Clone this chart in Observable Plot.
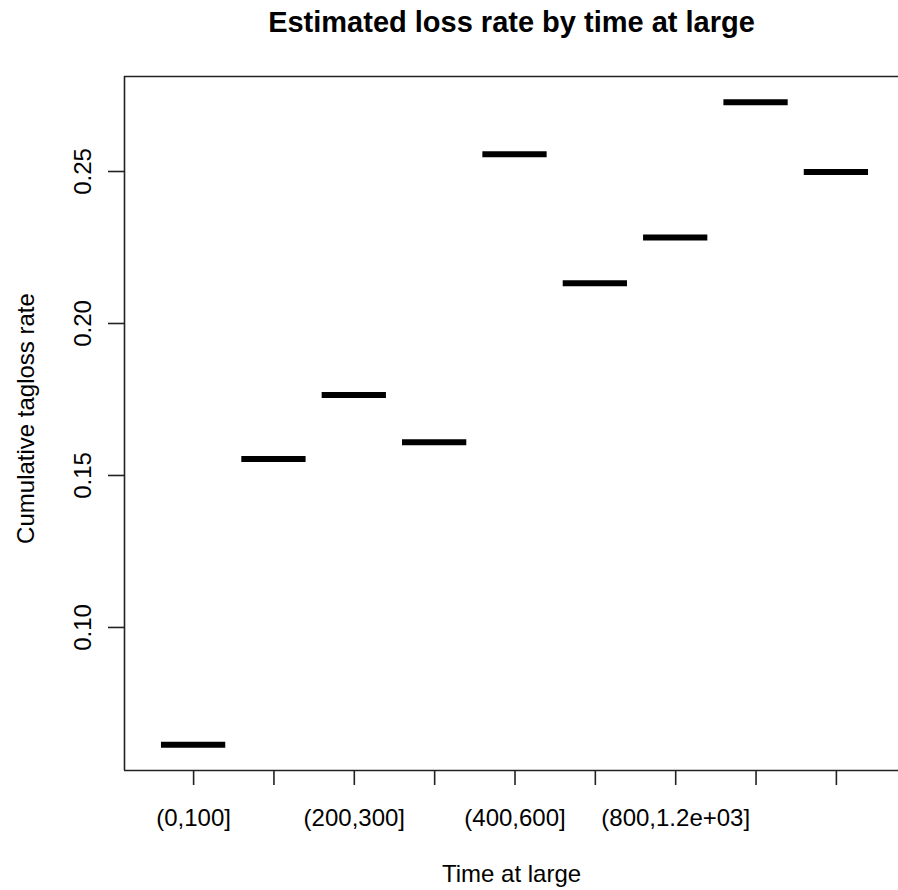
<!DOCTYPE html>
<html>
<head>
<meta charset="utf-8">
<script src="https://cdn.jsdelivr.net/npm/d3@7"></script>
<script src="https://cdn.jsdelivr.net/npm/@observablehq/plot@0.6"></script>
<style>
  html, body { margin: 0; padding: 0; background: #fff; overflow: hidden; }
  #chart svg { display: block; }
</style>
</head>
<body>
<div id="chart"></div>
<script>
// ---- data ----
const categories = ["(0,100]", "(100,200]", "(200,300]", "(300,400]", "(400,600]",
                    "(600,800]", "(800,1.2e+03]", "(1.2e+03,1.6e+03]", "(1.6e+03,3e+03]"];
const lossRate = [0.0614, 0.1554, 0.1765, 0.1609, 0.2557, 0.2132, 0.2283, 0.2728, 0.2498];
const labelShown = [true, false, true, false, true, false, true, false, false];
const yTicks = [0.10, 0.15, 0.20, 0.25];
const titleText = "Estimated loss rate by time at large";
const xTitle = "Time at large";
const yTitle = "Cumulative tagloss rate";

const data = categories.map((c, i) => ({pos: i + 1, cat: c, rate: lossRate[i]}));
const n = categories.length;

// R-style limits: 4% expansion
const xLo = 0.5, xHi = n + 0.5;
const xPad = (xHi - xLo) * 0.04;
const yMin = d3.min(lossRate), yMax = d3.max(lossRate);
const yPad = (yMax - yMin) * 0.04;
const xDomain = [xLo - xPad, xHi + xPad];
const yDomain = [yMin - yPad, yMax + yPad];

const font = "Liberation Sans, Arial, Helvetica, sans-serif";
const W = 898, H = 890, mL = 124, mT = 76, mB = 120;

const chart = Plot.plot({
  width: W,
  height: H,
  marginLeft: mL,
  marginTop: mT,
  marginBottom: mB,
  marginRight: 0,
  style: {fontFamily: font, fontSize: "24px", color: "black", background: "white", overflow: "hidden"},
  x: {domain: xDomain, range: [mL, 905]},
  y: {domain: yDomain, range: [H - mB, mT]},
  marks: [
    // plot box (left, top, bottom; right edge falls outside the picture)
    Plot.ruleX([xDomain[0]], {stroke: "#222", strokeWidth: 1.6}),
    Plot.ruleY(yDomain, {stroke: "#222", strokeWidth: 1.6}),
    // median lines
    Plot.ruleY(data, {x1: d => d.pos - 0.4, x2: d => d.pos + 0.4, y: "rate",
                      stroke: "black", strokeWidth: 6, strokeLinecap: "butt"}),
    // axes
    Plot.axisX({ticks: d3.range(1, n + 1), tickSize: 15, tickPadding: 23,
                tickFormat: i => labelShown[i - 1] ? categories[i - 1] : "",
                fontSize: 24, stroke: "#222", strokeWidth: 1.6, label: null}),
    Plot.axisY({ticks: yTicks, tickSize: 16, tickPadding: 18, tickRotate: -90,
                tickFormat: d3.format(".2f"), fontSize: 24,
                stroke: "#222", strokeWidth: 1.6, label: null}),
    // titles
    Plot.text([titleText], {frameAnchor: "top", lineAnchor: "bottom", dy: -45,
                            fontSize: 29, fontWeight: "bold", fill: "black"}),
    Plot.text([xTitle], {frameAnchor: "bottom", lineAnchor: "bottom", dy: 111,
                         fontSize: 24, fill: "black"}),
    Plot.text([yTitle], {frameAnchor: "left", textAnchor: "middle", lineAnchor: "bottom",
                         rotate: -90, dx: -91, dy: -5, fontSize: 24, fill: "black"})
  ]
});
document.getElementById("chart").appendChild(chart);
</script>
</body>
</html>
